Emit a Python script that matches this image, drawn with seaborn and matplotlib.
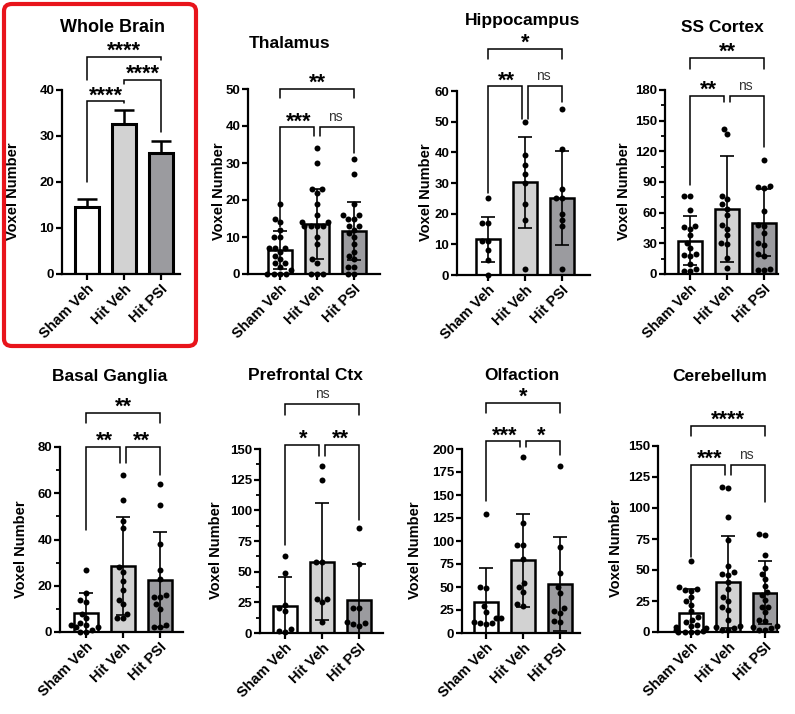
import numpy as np
import pandas as pd
import matplotlib
matplotlib.use('Agg')
import matplotlib.pyplot as plt
from matplotlib.patches import FancyBboxPatch
from matplotlib.ticker import MultipleLocator
import seaborn as sns

groups = ['Sham Veh', 'Hit Veh', 'Hit PSI']
bar_colors = ['#ffffff', '#d2d2d2', '#9b9b9f']

# whole brain: mean + SEM, no individual points
wb_mean = [14.5, 32.5, 26.3]
wb_sem = [1.7, 3.1, 2.6]
wb_stats = ['****', '****', '****']   # sham-hitveh, hitveh-psi, sham-psi

thal_sham = [19, 15, 14, 12, 10, 10, 7, 7, 7, 6, 5, 4, 3, 3, 2, 1, 0, 0, 0, 0]
thal_hitveh = [34, 30, 23, 23, 22, 19, 16, 14, 14, 13, 13, 13, 13, 10, 8, 4, 3, 0, 0, 0]
thal_hitpsi = [31, 27, 19, 16, 16, 15, 15, 13, 13, 12, 11, 10, 8, 6, 5, 4, 2, 2, 0, 0]
thal_mean = [6.5, 13.5, 11.6]
thal_sd = [5.2, 9.4, 7.9]
thal_stats = ['***', 'ns', '**']

hipp_sham = [25, 17, 17, 11, 11, 8, 5, 0]
hipp_hitveh = [50, 39, 36, 33, 30, 23, 18, 2]
hipp_hitpsi = [54, 41, 28, 25, 25, 20, 18, 16, 2]
hipp_mean = [11.6, 30.2, 25.0]
hipp_sd = [7.4, 14.9, 15.3]
hipp_stats = ['**', 'ns', '*']

ss_sham = [76, 76, 63, 47, 46, 44, 38, 30, 25, 20, 19, 18, 10, 5, 3, 3]
ss_hitveh = [142, 137, 76, 73, 68, 64, 58, 48, 44, 38, 30, 29, 16, 6]
ss_hitpsi = [112, 86, 85, 84, 62, 48, 47, 40, 30, 28, 20, 18, 5, 4, 4]
ss_mean = [32.6, 63.6, 50.2]
ss_sd = [24.2, 52.0, 32.5]
ss_stats = ['**', 'ns', '**']

bg_sham = [27, 17, 14, 13, 8, 6, 4, 3, 3, 2, 2, 1, 0, 0]
bg_hitveh = [68, 57, 48, 45, 28, 26, 22, 18, 14, 12, 8, 6, 6]
bg_hitpsi = [64, 55, 38, 27, 23, 16, 15, 15, 12, 10, 3, 2, 2]
bg_mean = [8.2, 28.5, 22.7]
bg_sd = [8.6, 21.2, 20.4]
bg_stats = ['**', '**', '**']

pf_sham = [63, 49, 23, 20, 18, 3, 2, 1]
pf_hitveh = [136, 125, 58, 58, 28, 28, 25, 9]
pf_hitpsi = [86, 56, 20, 20, 9, 8, 7, 6]
pf_mean = [21.8, 58.1, 26.7]
pf_sd = [23.5, 47.7, 29.5]
pf_stats = ['*', '**', 'ns']

olf_sham = [129, 50, 49, 29, 23, 16, 16, 12, 11, 11, 10]
olf_hitveh = [191, 120, 96, 96, 80, 54, 50, 45, 32, 29]
olf_hitpsi = [181, 94, 65, 50, 44, 27, 24, 22, 13, 12]
olf_mean = [33.7, 79.0, 53.6]
olf_sd = [37.0, 50.2, 51.2]
olf_stats = ['***', '*', '*']

cer_sham = [57, 36, 35, 34, 33, 28, 25, 22, 17, 12, 10, 8, 6, 5, 4, 3, 2, 1, 0, 0, 0, 0]
cer_hitveh = [117, 116, 93, 74, 53, 48, 47, 46, 40, 35, 28, 25, 20, 18, 10, 5, 4, 3, 2, 2]
cer_hitpsi = [79, 78, 62, 52, 47, 43, 37, 32, 30, 26, 20, 20, 16, 10, 9, 5, 4, 3, 2, 2]
cer_mean = [15.4, 40.4, 31.8]
cer_sd = [19.2, 36.8, 25.2]
cer_stats = ['***', 'ns', '****']

# panel layout in pixels: left, right, y of zero, y of top tick, first bar centre
# title centre, ylabel centre x, bracket heights (line, left leg end, right leg end) in data units
panels = [
    dict(title='Whole Brain', mean=wb_mean, err=wb_sem, pts=None, stats=wb_stats,
         ymax=40, step=10, minor=None, geo=(62, 180, 274, 90, 87), tpos=(113, 27), tsize=13, ylx=14,
         br=[(37.5, 20.1, 37.1), (42.2, 41.4, 30.9), (47.2, 42.2, 46.5)], gap=0.0),
    dict(title='Thalamus', mean=thal_mean, err=thal_sd, pts=[thal_sham, thal_hitveh, thal_hitpsi], stats=thal_stats,
         ymax=50, step=10, minor=None, geo=(248, 380, 274, 89, 280), tpos=(290, 43), tsize=12.5, ylx=220,
         br=[(39.6, 12.8, 37.2), (39.6, 37.2, 32.7), (50, 47.6, 47.6)], gap=0.07),
    dict(title='Hippocampus', mean=hipp_mean, err=hipp_sd, pts=[hipp_sham, hipp_hitveh, hipp_hitpsi], stats=hipp_stats,
         ymax=60, step=10, minor=None, geo=(457, 590, 275, 91, 488), tpos=(523, 20), tsize=12.5, ylx=427,
         br=[(61.5, 26.6, 51), (61.5, 51, 56.4), (73.8, 70.5, 70.5)], gap=0.07),
    dict(title='SS Cortex', mean=ss_mean, err=ss_sd, pts=[ss_sham, ss_hitveh, ss_hitpsi], stats=ss_stats,
         ymax=180, step=30, minor=15, geo=(665, 778, 274, 90, 690), tpos=(722, 27), tsize=12.5, ylx=625,
         br=[(174, 87, 168.6), (174, 168.6, 124.5), (211.6, 201, 201)], gap=0.07),
    dict(title='Basal Ganglia', mean=bg_mean, err=bg_sd, pts=[bg_sham, bg_hitveh, bg_hitpsi], stats=bg_stats,
         ymax=80, step=20, minor=10, geo=(60, 183, 632, 447, 86), tpos=(110, 377), tsize=12.5, ylx=22,
         br=[(80, 44.1, 73.1), (80, 73.1, 68), (94.8, 90.2, 90.2)], gap=0.07),
    dict(title='Prefrontal Ctx', mean=pf_mean, err=pf_sd, pts=[pf_sham, pf_hitveh, pf_hitpsi], stats=pf_stats,
         ymax=150, step=25, minor=12.5, geo=(260, 383, 633, 449, 285), tpos=(305, 375), tsize=12.5, ylx=217,
         br=[(153.5, 71.7, 144.5), (153.5, 144.5, 92.2), (186.3, 178, 178)], gap=0.07),
    dict(title='Olfaction', mean=olf_mean, err=olf_sd, pts=[olf_sham, olf_hitveh, olf_hitpsi], stats=olf_stats,
         ymax=200, step=25, minor=None, geo=(462, 580, 633, 449, 486), tpos=(522, 375), tsize=12.5, ylx=416,
         br=[(208.3, 143, 202), (208.3, 202, 193.8), (250, 239, 239)], gap=0.07),
    dict(title='Cerebellum', mean=cer_mean, err=cer_sd, pts=[cer_sham, cer_hitveh, cer_hitpsi], stats=cer_stats,
         ymax=150, step=25, minor=None, geo=(658, 778, 632, 446, 691), tpos=(720, 377), tsize=12.5, ylx=617,
         br=[(134.7, 60.6, 126.6), (134.7, 126.6, 105), (166.2, 158, 158)], gap=0.07),
]

sns.set_theme(style='ticks')
plt.rcParams['font.family'] = ['Liberation Sans', 'DejaVu Sans']
plt.rcParams['font.weight'] = 'bold'
plt.rcParams['axes.labelweight'] = 'bold'

W, H = 795, 714
fig = plt.figure(figsize=(W / 100, H / 100), dpi=100)
spacing = 37.0

for p in panels:
    L, R, y0, ytop, c0 = p['geo']
    ax = fig.add_axes([L / W, 1 - y0 / H, (R - L) / W, (y0 - ytop) / H])
    lo = -(c0 - L) / spacing
    hi = lo + (R - L) / spacing
    whole = p['pts'] is None

    bars = pd.DataFrame({'group': groups, 'value': p['mean']})
    sns.barplot(data=bars, x='group', y='value', hue='group', order=groups, hue_order=groups,
                palette=bar_colors, edgecolor='black', linewidth=2.2 if whole else 1.8, width=0.65,
                errorbar=None, legend=False, ax=ax)

    if not whole:
        rows = [(g, v) for g, vals in zip(groups, p['pts']) for v in vals]
        dots = pd.DataFrame(rows, columns=['group', 'value'])
        n_before = len(ax.collections)
        sns.swarmplot(data=dots, x='group', y='value', order=groups, color='black',
                      size=4.3, ax=ax, warn_thresh=1)
        for coll in ax.collections[n_before:]:
            coll.set_clip_on(False)
            coll.set_zorder(3)
        ax.errorbar(range(3), p['mean'], yerr=p['err'], fmt='none', ecolor='black',
                    elinewidth=1.2, capsize=5, capthick=1.2, zorder=4)
    else:
        ax.errorbar(range(3), p['mean'], yerr=[[0, 0, 0], p['err']], fmt='none', ecolor='black',
                    elinewidth=1.8, capsize=7, capthick=1.8, zorder=4)

    ax.set_xlim(lo, hi)
    ax.set_ylim(0, p['ymax'])
    ax.yaxis.set_major_locator(MultipleLocator(p['step']))
    if p['minor']:
        ax.yaxis.set_minor_locator(MultipleLocator(p['minor']))
        ax.tick_params(axis='y', which='minor', length=3, width=1.3, color='black')
    sns.despine(ax=ax)
    for side in ['left', 'bottom']:
        ax.spines[side].set_linewidth(1.6)
        ax.spines[side].set_color('black')
    ax.tick_params(axis='both', which='major', length=4, width=1.6, color='black',
                   labelsize=9.5, labelcolor='black', pad=1.5)
    ax.set_xticks([0, 1, 2])
    ax.set_xticklabels(groups, rotation=45, ha='right', rotation_mode='anchor', fontsize=10.5)
    ax.set_xlabel('')
    ax.set_ylabel('Voxel Number', fontsize=10.5, color='black')
    ax.yaxis.set_label_coords((p['ylx'] + 6 - L) / (R - L), 0.45)

    ty = (y0 - p['tpos'][1]) / (y0 - ytop)
    ax.set_title(p['title'], fontsize=p['tsize'], fontweight='bold', color='black',
                 x=(p['tpos'][0] - L) / (R - L), y=ty, va='center', pad=0)

    # significance brackets
    g = p['gap']
    spans = [(0, 1 - g), (1 + g, 2), (0, 2)]
    mids = [0.5, 1.5, 1.0]
    for (xa, xb), mid, (yl, ya, yb), lab in zip(spans, mids, p['br'], p['stats']):
        ax.plot([xa, xa, xb, xb], [ya, yl, yl, yb], color='black', lw=1.1, clip_on=False,
                solid_joinstyle='miter')
        if lab == 'ns':
            ax.annotate(lab, xy=(mid, yl), xytext=(0, 4.5), textcoords='offset points',
                        ha='center', va='baseline', fontsize=10, fontweight='normal',
                        color='#333333', annotation_clip=False)
        else:
            ax.annotate(lab, xy=(mid, yl), xytext=(0, 0), textcoords='offset points',
                        ha='center', va='baseline', fontsize=15.5, fontweight='bold',
                        color='black', annotation_clip=False)

box = FancyBboxPatch((4 / W, 1 - 346 / H), 192 / W, 342 / H,
                     boxstyle='round,pad=0,rounding_size=0.01', transform=fig.transFigure,
                     fill=False, edgecolor='#e8141b', linewidth=3)
fig.add_artist(box)

fig.savefig('out.png', dpi=100, facecolor='white')
